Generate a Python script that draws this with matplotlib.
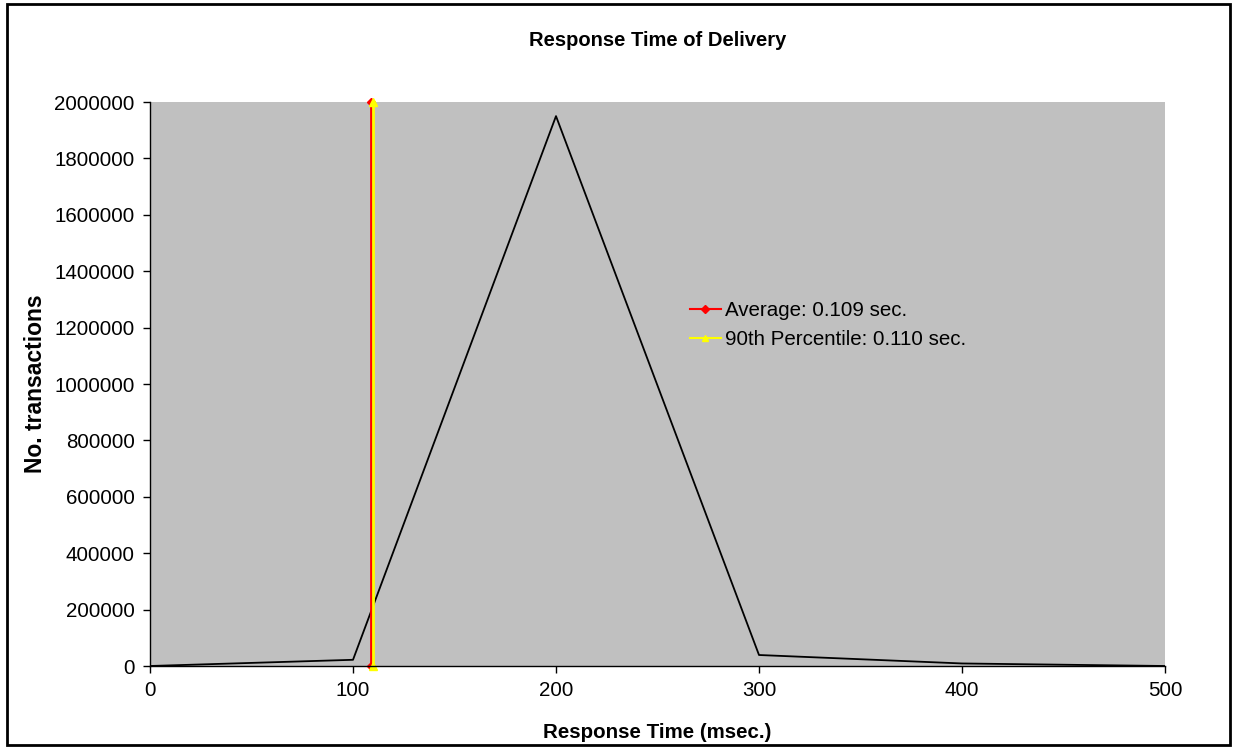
import matplotlib
matplotlib.use("Agg")
import matplotlib.pyplot as plt
from matplotlib.patches import Rectangle

plt.rcParams['font.family'] = ['Liberation Sans', 'DejaVu Sans']

response_ms = [0, 100, 200, 300, 400, 500]
transactions = [0, 22000, 1950000, 39000, 9000, 0]
avg_ms = 109
p90_ms = 110
y_max = 2000000
x_ticks = [0, 100, 200, 300, 400, 500]
y_ticks = [0, 200000, 400000, 600000, 800000, 1000000, 1200000, 1400000, 1600000, 1800000, 2000000]

fig = plt.figure(figsize=(12.39, 7.54), dpi=100)
fig.patches.append(Rectangle((7/1239, 9/754), 1223/1239, 741/754, transform=fig.transFigure,
                             fill=False, edgecolor='black', linewidth=2))
ax = fig.add_axes([150/1239, 88/754, 1015/1239, 564/754])
ax.set_facecolor('#c0c0c0')

ax.plot(response_ms, transactions, color='black', linewidth=1.3)
ax.plot([avg_ms, avg_ms], [0, y_max], color='red', linewidth=2, marker='D', markersize=4.5,
        label='Average: 0.109 sec.')
ax.plot([p90_ms, p90_ms], [0, y_max], color='yellow', linewidth=2, marker='^', markersize=6,
        label='90th Percentile: 0.110 sec.')

ax.set_xlim(0, 500)
ax.set_ylim(0, y_max)
ax.set_xticks(x_ticks)
ax.set_yticks(y_ticks)
ax.set_xticklabels([str(v) for v in x_ticks])
ax.set_yticklabels([str(v) for v in y_ticks])
ax.tick_params(labelsize=14.8, direction='out', length=5, width=1, pad=6)
for s in ['top', 'right']:
    ax.spines[s].set_visible(False)
for s in ['left', 'bottom']:
    ax.spines[s].set_linewidth(1)
for m in [ax.lines[1], ax.lines[2]]:
    m.set_clip_on(False)

ax.set_title('Response Time of Delivery', fontsize=14.5, fontweight='bold', pad=40)
ax.set_xlabel('Response Time (msec.)', fontsize=14.8, fontweight='bold', labelpad=16)
ax.set_ylabel('No. transactions', fontsize=16.5, fontweight='bold', labelpad=5)

leg = ax.legend(loc='upper left', bbox_to_anchor=((690-150)/1015, (666-301)/564), frameon=False,
                fontsize=14.8, handlelength=1.5, handletextpad=0.2, labelspacing=0.5,
                borderpad=0, borderaxespad=0)
for h in leg.legend_handles:
    h.set_linewidth(1.5)
    h.set_markersize(4.5)

fig.savefig('out.png', dpi=100)
